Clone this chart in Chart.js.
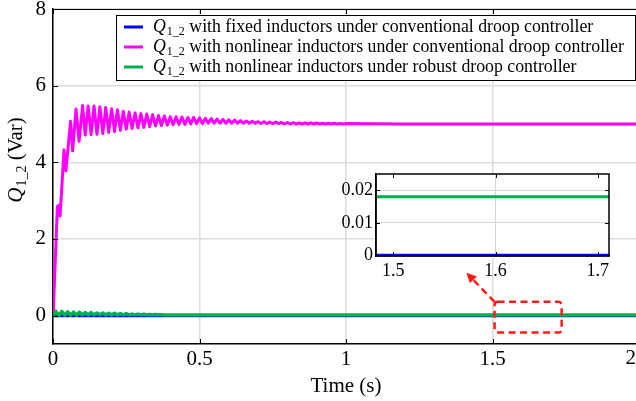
<!DOCTYPE html>
<html>
<head>
<meta charset="utf-8">
<script src="https://cdn.jsdelivr.net/npm/chart.js@4.4.1/dist/chart.umd.min.js"></script>
<style>
    html, body { margin: 0; padding: 0; background: #fff; overflow: hidden; }
    #wrap { position: relative; width: 640px; height: 401px; }
    #main { position: absolute; left: 0; top: 0; }
    #inset { position: absolute; left: 330px; top: 168px; }
</style>
</head>
<body>
<div id="wrap">
    <canvas id="main" width="640" height="401"></canvas>
    <canvas id="inset" width="290" height="125"></canvas>
</div>
<script>
// ---- data ----
const xTicks = [0, 0.5, 1, 1.5, 2];
const yTicks = [0, 2, 4, 6, 8];
const insetXTicks = [1.5, 1.6, 1.7];
const insetYTicks = [0, 0.01, 0.02];

const legendTexts = [
    ' with fixed inductors under conventional droop controller',
    ' with nonlinear inductors under conventional droop controller',
    ' with nonlinear inductors under robust droop controller'
];
const seriesColors = ['#0000ff', '#ff00ff', '#00b050'];

// Q1_2 with fixed inductors, conventional droop (blue)
const blueTime = [0, 0.5, 1, 1.5, 2];
const blueQ = [0, 0, 0, 0, 0];

// Q1_2 with nonlinear inductors, conventional droop (magenta): start-up
const magentaRiseTime = [0, 0.002, 0.015, 0.020, 0.024, 0.029, 0.0375, 0.044, 0.060, 0.067, 0.0785, 0.089, 0.101];
const magentaRiseQ = [0, 0.3, 2.85, 2.88, 2.6, 3.2, 4.33, 3.78, 5.07, 4.30, 5.39, 4.55, 5.48];
// then 50 Hz ripple, one sample every half period starting at t = 0.11 s
const magentaRippleStart = 0.11;
const rippleStep = 0.01;
const magentaRippleQ = [
    4.71, 5.47, 4.72, 5.47, 4.73, 5.45, 4.75, 5.43, 4.78, 5.40,
    4.80, 5.37, 4.83, 5.33, 4.86, 5.31, 4.88, 5.29, 4.90, 5.27,
    4.91, 5.26, 4.93, 5.24, 4.95, 5.22, 4.96, 5.21, 4.97, 5.19,
    4.98, 5.19, 4.99, 5.18, 4.99, 5.17, 5.00, 5.17, 5.01, 5.16,
    5.01, 5.15, 5.02, 5.14, 5.02, 5.13, 5.02, 5.12, 5.02, 5.11,
    5.02, 5.10, 5.02, 5.09, 5.02, 5.08, 5.02, 5.07, 5.02, 5.06,
    5.01, 5.06, 5.01, 5.05, 5.01, 5.05, 5.01, 5.04, 5.00, 5.04,
    5.00, 5.04, 5.00, 5.03, 5.00, 5.03, 5.00, 5.03, 5.00, 5.03,
    5.00, 5.02, 5.00, 5.02, 5.00, 5.02, 5.00, 5.01, 5.00, 5.01
];
const magentaTailTime = [1.2, 1.5, 2];
const magentaTailQ = [5.0, 5.0, 5.0];

// Q1_2 with nonlinear inductors, robust droop (green): ripple then steady value
const greenRippleQ = [
    0, 0.11, 0.00, 0.11, 0.01, 0.10, 0.01, 0.09, 0.01, 0.09,
    0.02, 0.08, 0.02, 0.08, 0.02, 0.07, 0.02, 0.07, 0.02, 0.06,
    0.02, 0.06, 0.02, 0.05, 0.02, 0.05, 0.02, 0.04, 0.02, 0.04,
    0.02, 0.035, 0.02, 0.03, 0.02, 0.03, 0.02, 0.025, 0.018
];
const greenTailTime = [0.5, 1, 1.5, 2];
const greenTailQ = [0.018, 0.018, 0.018, 0.018];

// zoomed window marker on the main axes: [x1, x2, yBottom, yTop] and arrow tip [x, y]
const zoomBox = [1.507, 1.736, -0.44, 0.36];
const arrowTip = [1.411, 1.12];

// ---- build point lists ----
function toPoints(times, values) {
    return times.map((t, i) => ({ x: t, y: values[i] }));
}

const bluePoints = toPoints(blueTime, blueQ);
const magentaPoints = toPoints(magentaRiseTime, magentaRiseQ)
    .concat(magentaRippleQ.map((q, i) => ({ x: magentaRippleStart + i * rippleStep, y: q })))
    .concat(toPoints(magentaTailTime, magentaTailQ));
const greenPoints = greenRippleQ.map((q, i) => ({ x: i * rippleStep, y: q }))
    .concat(toPoints(greenTailTime, greenTailQ));

const serif = '"Liberation Serif", "Times New Roman", serif';
const xLast = xTicks[xTicks.length - 1];

// draws "Q" italic with "1_2" subscript followed by plain text, returns the width
function drawQLabel(ctx, x, y, size, rest, measureOnly) {
    const subSize = Math.round(size * 0.68);
    ctx.font = 'italic ' + size + 'px ' + serif;
    const wQ = ctx.measureText('Q').width;
    ctx.font = subSize + 'px ' + serif;
    const wSub = ctx.measureText('1_2').width;
    ctx.font = size + 'px ' + serif;
    const wRest = ctx.measureText(rest).width;
    if (!measureOnly) {
        ctx.font = 'italic ' + size + 'px ' + serif;
        ctx.fillText('Q', x, y);
        ctx.font = subSize + 'px ' + serif;
        ctx.fillText('1_2', x + wQ + 1, y + size * 0.28);
        ctx.font = size + 'px ' + serif;
        ctx.fillText(rest, x + wQ + 1 + wSub, y);
    }
    return wQ + 1 + wSub + wRest;
}

const mainDecor = {
    id: 'mainDecor',
    afterDraw(chart) {
        const { ctx, chartArea: a, scales: { x, y } } = chart;
        ctx.save();

        // top border and inward tick marks
        ctx.strokeStyle = '#000';
        ctx.lineWidth = 1;
        ctx.beginPath();
        ctx.moveTo(a.left, a.top + 0.5);
        ctx.lineTo(a.right, a.top + 0.5);
        xTicks.forEach(v => {
            const px = Math.round(x.getPixelForValue(v)) + 0.5;
            ctx.moveTo(px, a.bottom); ctx.lineTo(px, a.bottom - 5);
            ctx.moveTo(px, a.top); ctx.lineTo(px, a.top + 5);
        });
        yTicks.forEach(v => {
            const py = Math.round(y.getPixelForValue(v)) + 0.5;
            ctx.moveTo(a.left, py); ctx.lineTo(a.left + 5, py);
        });
        ctx.stroke();

        // last x label sits against the figure edge, as in the exported picture
        ctx.fillStyle = '#000';
        ctx.font = '21px ' + serif;
        ctx.textAlign = 'right';
        ctx.textBaseline = 'top';
        ctx.fillText(String(xLast), 636, a.bottom + 4);

        // red dashed box round the zoomed window
        const bx1 = x.getPixelForValue(zoomBox[0]);
        const bx2 = x.getPixelForValue(zoomBox[1]);
        const by1 = y.getPixelForValue(zoomBox[3]);
        const by2 = y.getPixelForValue(zoomBox[2]);
        ctx.strokeStyle = '#ff1a1a';
        ctx.fillStyle = '#ff1a1a';
        ctx.lineWidth = 2.5;
        ctx.setLineDash([7, 4.5]);
        ctx.beginPath();
        ctx.roundRect(bx1, by1, bx2 - bx1, by2 - by1, 3);
        ctx.stroke();

        // dashed arrow to the inset
        const tx = x.getPixelForValue(arrowTip[0]);
        const ty = y.getPixelForValue(arrowTip[1]);
        const ang = Math.atan2(ty - by1, tx - bx1);
        const head = 10;
        ctx.beginPath();
        ctx.moveTo(bx1, by1);
        ctx.lineTo(tx - Math.cos(ang) * head * 0.8, ty - Math.sin(ang) * head * 0.8);
        ctx.stroke();
        ctx.setLineDash([]);
        ctx.beginPath();
        ctx.moveTo(tx, ty);
        ctx.lineTo(tx - Math.cos(ang) * head + Math.sin(ang) * 5, ty - Math.sin(ang) * head - Math.cos(ang) * 5);
        ctx.lineTo(tx - Math.cos(ang) * head - Math.sin(ang) * 5, ty - Math.sin(ang) * head + Math.cos(ang) * 5);
        ctx.closePath();
        ctx.fill();

        // legend
        ctx.fillStyle = '#fff';
        ctx.fillRect(116.5, 15.5, 519, 65);
        ctx.strokeStyle = '#000';
        ctx.lineWidth = 1;
        ctx.strokeRect(116.5, 15.5, 519, 65);
        ctx.textBaseline = 'middle';
        ctx.textAlign = 'left';
        legendTexts.forEach((txt, i) => {
            const ry = 27 + i * 20;
            ctx.strokeStyle = seriesColors[i];
            ctx.lineWidth = 3;
            ctx.beginPath();
            ctx.moveTo(124, ry); ctx.lineTo(143, ry);
            ctx.stroke();
            ctx.fillStyle = '#000';
            drawQLabel(ctx, 153, ry, 17.8, txt);
        });

        // axis titles
        ctx.fillStyle = '#000';
        ctx.font = '21px ' + serif;
        ctx.textAlign = 'center';
        ctx.fillText('Time (s)', (a.left + a.right) / 2, 386);
        ctx.textAlign = 'left';
        ctx.translate(16, 160);
        ctx.rotate(-Math.PI / 2);
        const w = drawQLabel(ctx, 0, 0, 21, ' (Var)', true);
        drawQLabel(ctx, -w / 2, 0, 21, ' (Var)');
        ctx.restore();
    }
};

new Chart(document.getElementById('main'), {
    type: 'line',
    data: {
        datasets: [
            { data: bluePoints, borderColor: seriesColors[0], borderWidth: 3, order: 3 },
            { data: magentaPoints, borderColor: seriesColors[1], borderWidth: 3, order: 2 },
            { data: greenPoints, borderColor: seriesColors[2], borderWidth: 3.5, order: 1 }
        ]
    },
    options: {
        responsive: false,
        animation: false,
        layout: { padding: { top: 9, right: 1, left: 0, bottom: 0 } },
        elements: { point: { radius: 0 }, line: { tension: 0, borderJoinStyle: 'round', borderCapStyle: 'round' } },
        plugins: { legend: { display: false }, tooltip: { enabled: false } },
        scales: {
            x: {
                type: 'linear', min: 0, max: 2,
                afterBuildTicks: s => { s.ticks = xTicks.map(v => ({ value: v })); },
                afterFit: s => { s.height = 57; s.paddingLeft = 0; s.paddingRight = 0; },
                grid: { color: '#dcdcdc', lineWidth: 1.5, drawTicks: false },
                border: { color: '#000', width: 1.5 },
                ticks: { color: '#000', padding: 3, maxRotation: 0, font: { family: serif, size: 21 }, callback: v => (v === xLast ? '' : String(v)) }
            },
            y: {
                min: -0.74, max: 8,
                afterBuildTicks: s => { s.ticks = yTicks.map(v => ({ value: v })); },
                afterFit: s => { s.width = 53; s.paddingTop = 0; s.paddingBottom = 0; },
                grid: { color: '#dcdcdc', lineWidth: 1.5, drawTicks: false },
                border: { color: '#000', width: 1.5 },
                ticks: { color: '#000', padding: 7, font: { family: serif, size: 21 }, callback: v => String(v) }
            }
        }
    },
    plugins: [mainDecor]
});

// ---- inset ----
const insetDecor = {
    id: 'insetDecor',
    beforeDraw(chart) {
        const { ctx, chartArea: a } = chart;
        ctx.save();
        ctx.fillStyle = '#fff';
        ctx.fillRect(a.left, a.top, a.right - a.left, a.bottom - a.top);
        ctx.restore();
    },
    afterDraw(chart) {
        const { ctx, chartArea: a, scales: { x, y } } = chart;
        ctx.save();
        ctx.strokeStyle = '#000';
        ctx.lineWidth = 1.5;
        ctx.strokeRect(a.left, a.top, a.right - a.left, a.bottom - a.top);
        ctx.lineWidth = 1;
        ctx.beginPath();
        insetYTicks.forEach(v => {
            const py = Math.round(y.getPixelForValue(v)) + 0.5;
            ctx.moveTo(a.left, py); ctx.lineTo(a.left + 4, py);
            ctx.moveTo(a.right, py); ctx.lineTo(a.right - 4, py);
        });
        insetXTicks.forEach(v => {
            const px = Math.round(x.getPixelForValue(v)) + 0.5;
            ctx.moveTo(px, a.bottom); ctx.lineTo(px, a.bottom - 4);
            ctx.moveTo(px, a.top); ctx.lineTo(px, a.top + 4);
        });
        ctx.stroke();
        ctx.restore();
    }
};

new Chart(document.getElementById('inset'), {
    type: 'line',
    data: {
        datasets: [
            { data: bluePoints, borderColor: seriesColors[0], borderWidth: 3, order: 2 },
            { data: greenPoints, borderColor: seriesColors[2], borderWidth: 3, order: 1 }
        ]
    },
    options: {
        responsive: false,
        animation: false,
        layout: { padding: { top: 6, right: 11, left: 0, bottom: 0 } },
        elements: { point: { radius: 0 }, line: { tension: 0 } },
        plugins: { legend: { display: false }, tooltip: { enabled: false } },
        scales: {
            x: {
                type: 'linear', min: 1.483, max: 1.711,
                afterBuildTicks: s => { s.ticks = insetXTicks.map(v => ({ value: v })); },
                afterFit: s => { s.height = 37; s.paddingLeft = 0; s.paddingRight = 0; },
                grid: { color: c => (c.tick && c.tick.value === 1.6 ? '#d6d6d6' : 'rgba(0,0,0,0)'), lineWidth: 1, drawTicks: false },
                border: { color: '#000', width: 1.5 },
                ticks: { color: '#000', padding: 4, maxRotation: 0, font: { family: serif, size: 18 }, callback: v => v.toFixed(1) }
            },
            y: {
                min: -0.0002, max: 0.025,
                afterBuildTicks: s => { s.ticks = insetYTicks.map(v => ({ value: v })); },
                afterFit: s => { s.width = 46; s.paddingTop = 0; s.paddingBottom = 0; },
                grid: { color: c => (c.tick && c.tick.value > 0 ? '#d6d6d6' : 'rgba(0,0,0,0)'), lineWidth: 1, drawTicks: false },
                border: { color: '#000', width: 1.5 },
                ticks: { color: '#000', padding: 3, font: { family: serif, size: 18 }, callback: v => String(v) }
            }
        }
    },
    plugins: [insetDecor]
});
</script>
</body>
</html>
